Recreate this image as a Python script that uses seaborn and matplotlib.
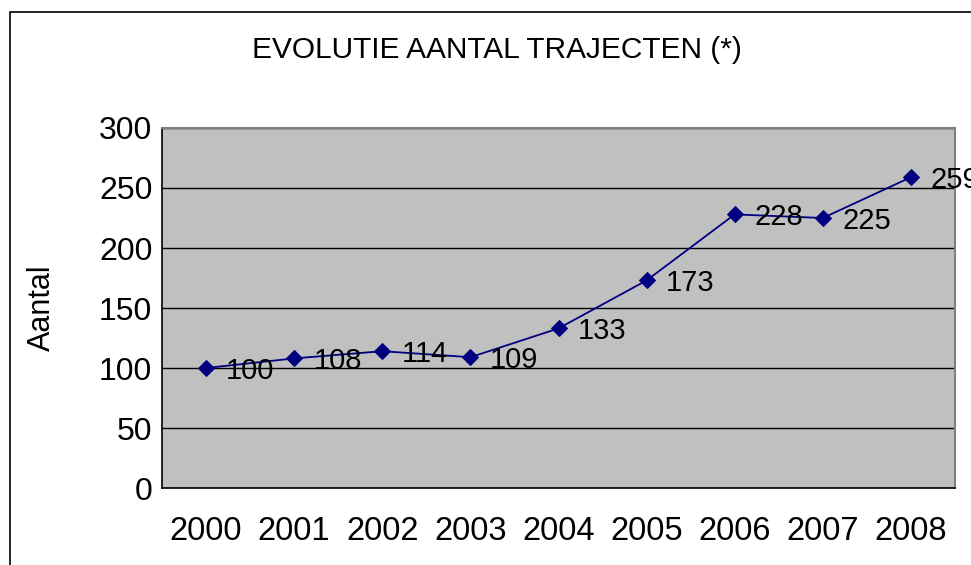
import matplotlib
matplotlib.use("Agg")
import matplotlib.pyplot as plt
import seaborn as sns
from matplotlib.patches import Rectangle
from matplotlib.ticker import FixedLocator, NullFormatter

years = ["2000", "2001", "2002", "2003", "2004", "2005", "2006", "2007", "2008"]
aantal = [100, 108, 114, 109, 133, 173, 228, 225, 259]

sns.set_style("white")
plt.rcParams['font.family'] = ['Liberation Sans', 'DejaVu Sans']
plt.rcParams['text.color'] = 'black'
plt.rcParams['axes.labelcolor'] = 'black'
plt.rcParams['xtick.color'] = 'black'
plt.rcParams['ytick.color'] = 'black'

fig = plt.figure(figsize=(9.71, 5.65), dpi=100)
ax = fig.add_axes([162 / 971, 77 / 565, 793 / 971, 360 / 565])
ax.set_facecolor("#C0C0C0")

pos = list(range(len(years)))
sns.lineplot(x=pos, y=aantal, ax=ax, color="#000080", linewidth=1.3,
             marker="D", markersize=8, markeredgecolor="#000080")

for x, v in zip(pos, aantal):
    ax.annotate(str(v), (x, v), xytext=(14, -2), textcoords="offset points",
                ha="left", va="center", fontsize=21, color="black",
                annotation_clip=False)

ax.set_xlim(-0.5, len(years) - 0.5)
ax.set_ylim(0, 300)
ax.set_yticks(range(0, 301, 50))
ax.set_xticks(pos)
ax.set_xticklabels(years)
ax.xaxis.set_minor_locator(FixedLocator([p - 0.5 for p in pos] + [len(years) - 0.5]))
ax.xaxis.set_minor_formatter(NullFormatter())
ax.tick_params(axis="x", which="major", length=0, pad=20, labelsize=23.5)
ax.tick_params(axis="x", which="minor", length=7, width=1, color="black", direction="out")
ax.tick_params(axis="y", length=5, width=1, color="black", direction="out", pad=2, labelsize=23)
ax.grid(axis="y", color="black", linewidth=1)
ax.set_axisbelow(True)

for side in ["left", "bottom"]:
    ax.spines[side].set_color("black")
    ax.spines[side].set_linewidth(1.2)
for side in ["top", "right"]:
    ax.spines[side].set_visible(True)
    ax.spines[side].set_color("#808080")
    ax.spines[side].set_linewidth(1.5)

ax.set_ylabel("Aantal", fontsize=22, labelpad=30)
fig.text(497 / 971, 1 - 50 / 565, "EVOLUTIE AANTAL TRAJECTEN (*)", ha="center",
         va="center", fontsize=21.5)

fig.patches.append(Rectangle((10 / 971, -0.1), 1.0, 1 - 12 / 565 + 0.1,
                             transform=fig.transFigure, fill=False,
                             edgecolor="black", linewidth=1.2))

fig.savefig("out.png", dpi=100)
